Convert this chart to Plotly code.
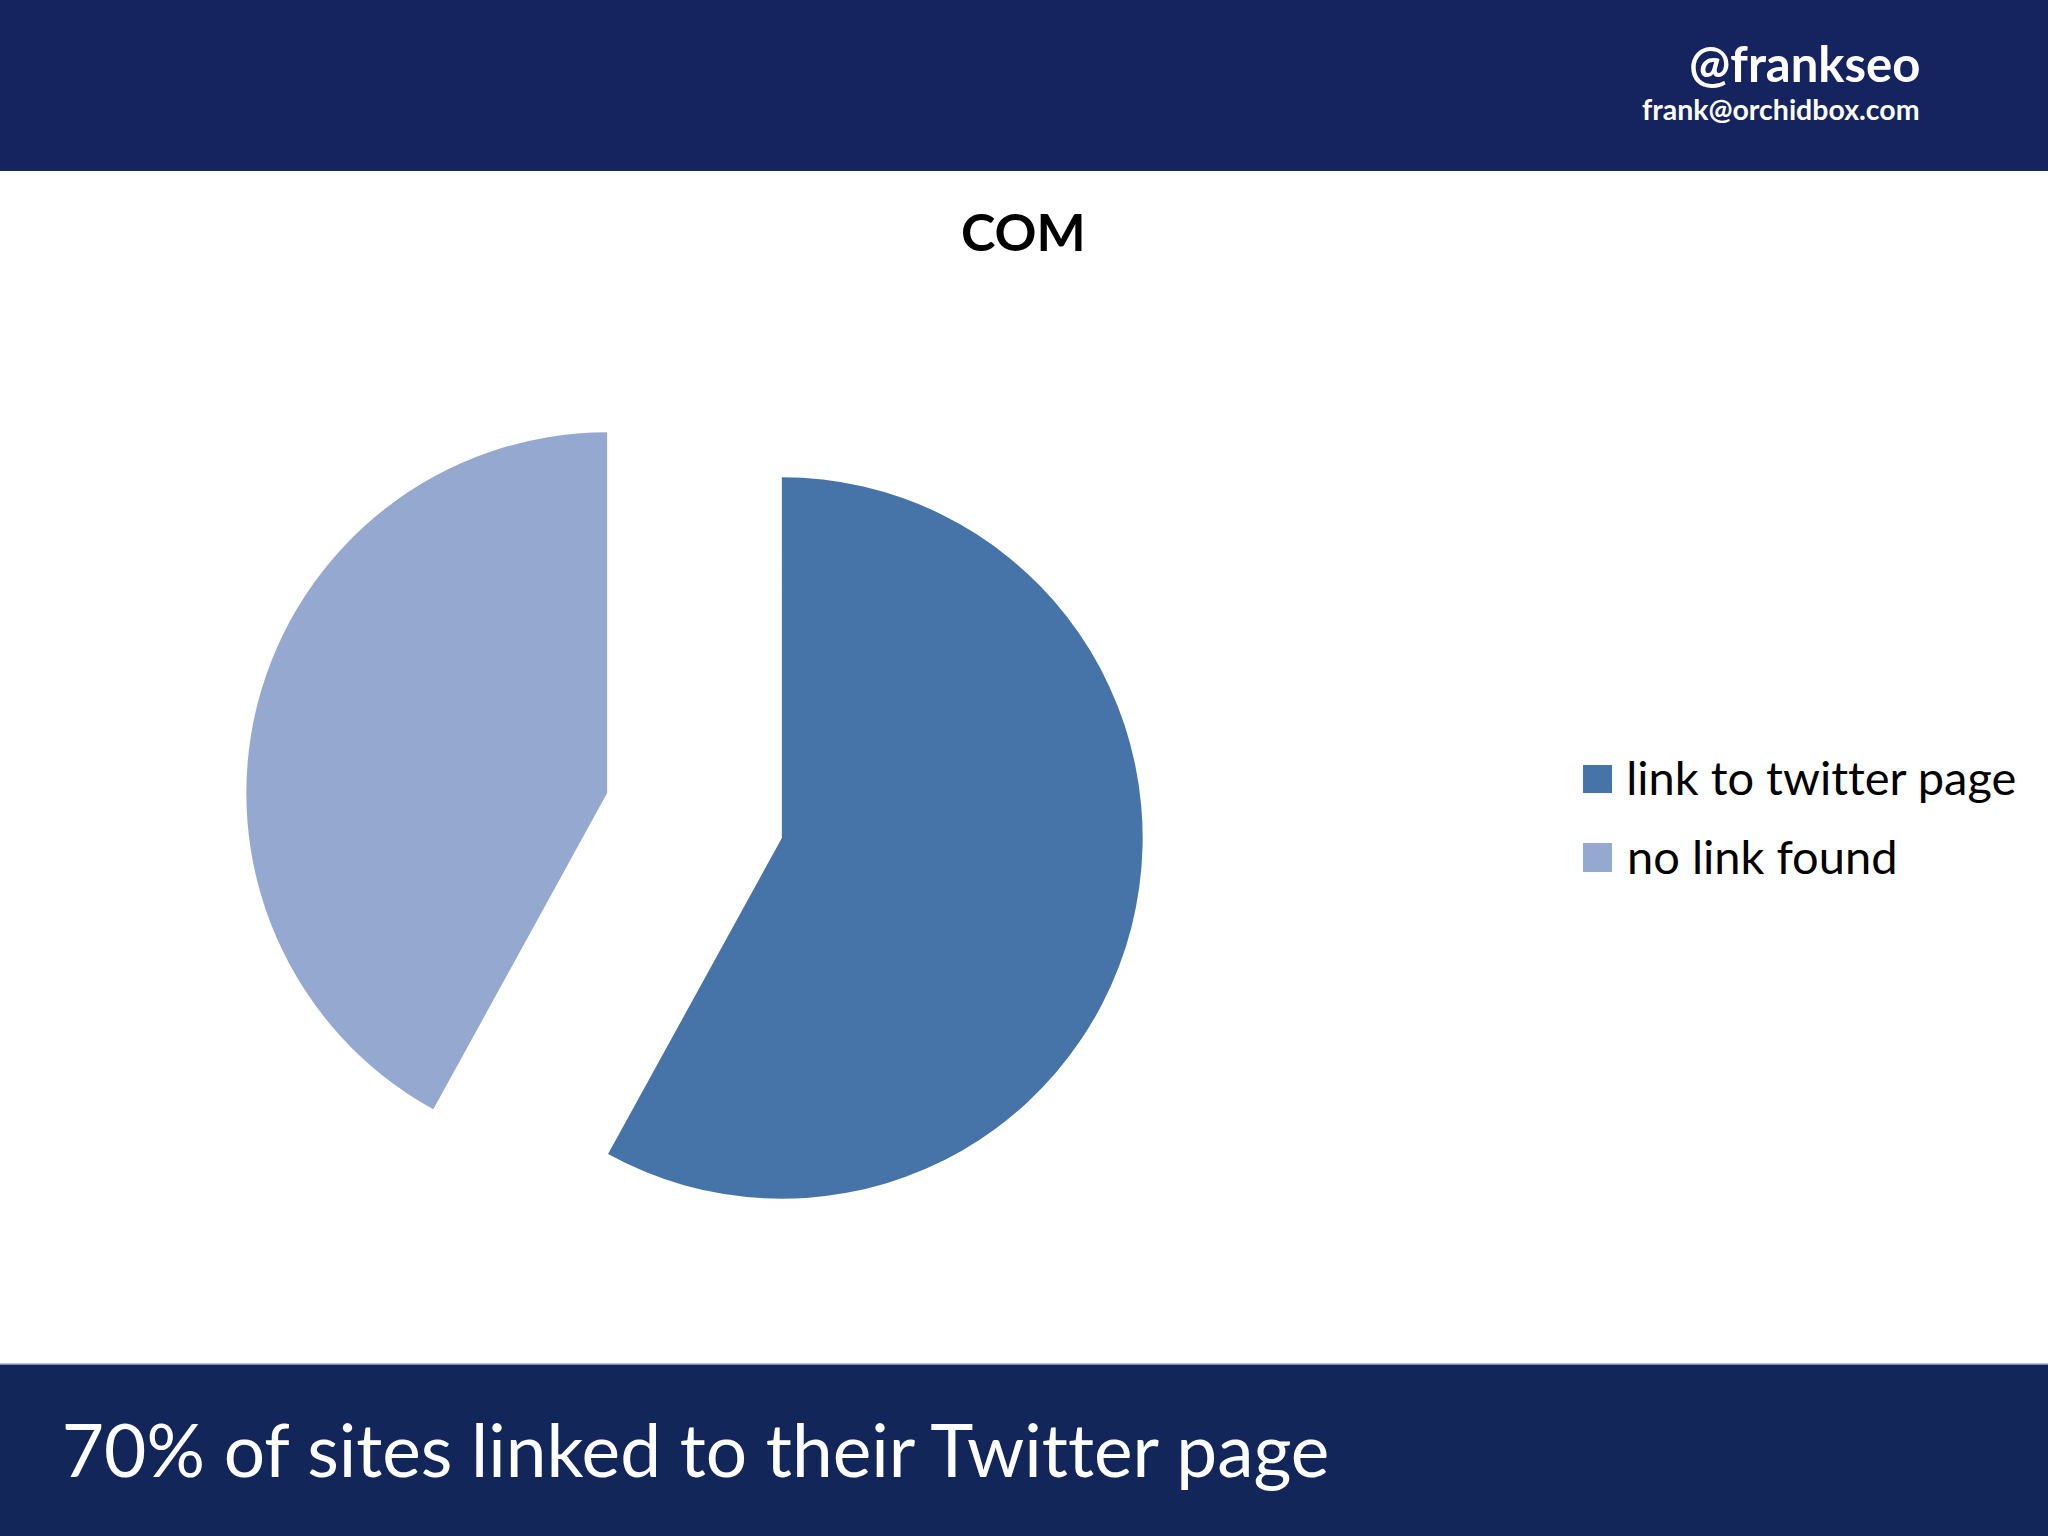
import plotly.graph_objects as go

# ---- data ----
labels = ["link to twitter page", "no link found"]
values = [58, 42]
colors = ["#4674A8", "#95A9D0"]
chart_title = "COM"
header_handle = "@frankseo"
header_email = "frank@orchidbox.com"
footer_text = "70% of sites linked to their Twitter page"

W, H = 2048, 1536
NAVY_TOP = "#15235F"
NAVY_BOT = "#12265A"
FONT = "Lato"


def px(x):
    return x / W


def py(y):
    return 1 - y / H


fig = go.Figure()
fig.add_trace(go.Pie(
    labels=labels,
    values=values,
    marker=dict(colors=colors, line=dict(width=0)),
    sort=False,
    direction="clockwise",
    rotation=0,
    pull=[0.25, 0.25],
    textinfo="none",
    hoverinfo="label+percent",
    showlegend=False,
    domain=dict(x=[px(243.5), px(1145.5)], y=[py(1266.5), py(364.5)]),
))

shapes = [
    dict(type="rect", xref="paper", yref="paper", x0=0, x1=1, y0=py(171), y1=1,
         fillcolor=NAVY_TOP, line=dict(width=0), layer="below"),
    dict(type="rect", xref="paper", yref="paper", x0=0, x1=1, y0=0, y1=py(1364),
         fillcolor=NAVY_BOT, line=dict(width=0), layer="below"),
    dict(type="line", xref="paper", yref="paper", x0=0, x1=1, y0=py(1364), y1=py(1364),
         line=dict(color="#9FB0D4", width=1.5)),
]

annotations = [
    dict(text="<b>%s</b>" % header_handle, x=px(1922), y=py(63), xanchor="right", yanchor="middle",
         font=dict(family=FONT, size=49, color="white")),
    dict(text="<b>%s</b>" % header_email, x=px(1922), y=py(109), xanchor="right", yanchor="middle",
         font=dict(family=FONT, size=28.5, color="white")),
    dict(text="<b>%s</b>" % chart_title, x=px(1023), y=py(231), xanchor="center", yanchor="middle",
         font=dict(family=FONT, size=52, color="black")),
    dict(text=footer_text, x=px(61), y=py(1449), xanchor="left", yanchor="middle",
         font=dict(family=FONT, size=73, color="white")),
]

# custom legend
leg_rows = [(765, 793, 777), (843, 872, 856)]
for (lab, col, (y0, y1, yc)) in zip(labels, colors, leg_rows):
    shapes.append(dict(type="rect", xref="paper", yref="paper", x0=px(1583), x1=px(1612),
                       y0=py(y1), y1=py(y0), fillcolor=col, line=dict(width=0)))
    annotations.append(dict(text=lab, x=px(1625), y=py(yc), xanchor="left", yanchor="middle",
                            font=dict(family=FONT, size=47, color="black")))

for a in annotations:
    a.update(xref="paper", yref="paper", showarrow=False)

fig.update_layout(
    width=W, height=H,
    margin=dict(l=0, r=0, t=0, b=0),
    paper_bgcolor="white",
    plot_bgcolor="white",
    shapes=shapes,
    annotations=annotations,
)

post = (
    "document.body.style.margin='0';"
    "var s=document.createElement('style');"
    "s.textContent='text{font-variant-ligatures:none;font-feature-settings:\"liga\" 0;}';"
    "document.head.appendChild(s);"
)
fig.write_html("out.html", post_script=post, config={"displayModeBar": False})
